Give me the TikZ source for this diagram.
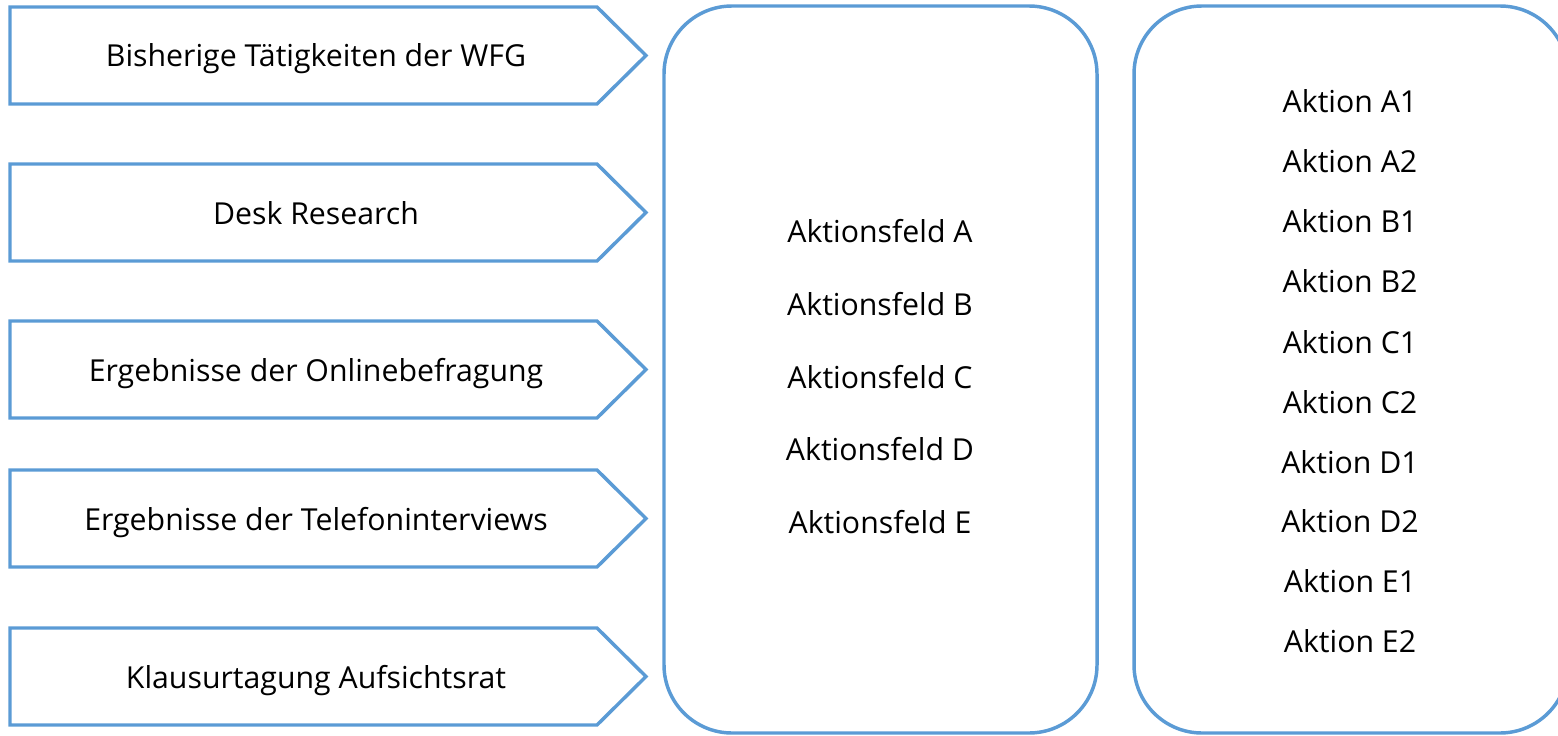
\documentclass[tikz,border=0pt]{standalone}
\usepackage{fontspec}
\setmainfont{Open Sans}
\definecolor{frameblue}{HTML}{5B9BD5}
\begin{document}
\begin{tikzpicture}[x=0.75pt,y=-0.75pt,
  outline/.style={draw=frameblue,line width=2.6pt,line join=miter},
  roundbox/.style={draw=frameblue,line width=2.6pt,rounded corners=51pt,inner sep=0pt},
  lbl/.style={font=\fontsize{22.7}{27}\selectfont,text=black,inner sep=0pt,anchor=base}]
\useasboundingbox (0,0) rectangle (1558,735);
% input arrows
\foreach \t/\n/\txt in {7/a1/Bisherige Tätigkeiten der WFG,164/a2/Desk Research,321/a3/Ergebnisse der Onlinebefragung,470/a4/Ergebnisse der Telefoninterviews,628/a5/Klausurtagung Aufsichtsrat}{
  \draw[outline] (10,\t) -- (597,\t) -- (646,\t+48.5) -- (597,\t+97) -- (10,\t+97) -- cycle;
  \node[lbl] (\n) at (316,\t+60) {\txt};
}
% boxes
\node[roundbox,minimum width=433pt*0.75,minimum height=727pt*0.75] (felder) at (880.5,369.5) {};
\node[roundbox,minimum width=434pt*0.75,minimum height=727pt*0.75] (aktionen) at (1351,369.5) {};
% Aktionsfelder
\foreach \y/\l in {242/A,315/B,388/C,460/D,533/E}{
  \node[lbl] (f\l) at (880,\y) {Aktionsfeld \l};
}
% Aktionen
\foreach \y/\l in {113/A1,172/A2,232/B1,292/B2,353/C1,413/C2,473/D1,532/D2,592/E1,652/E2}{
  \node[lbl] (k\l) at (1350,\y) {Aktion \l};
}
\end{tikzpicture}
\end{document}
